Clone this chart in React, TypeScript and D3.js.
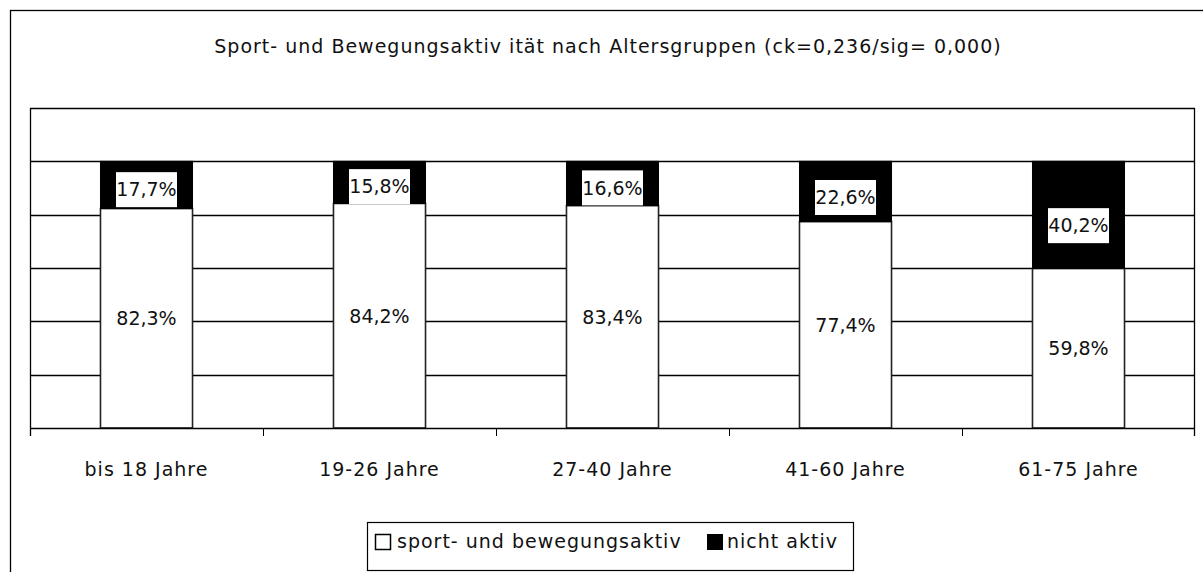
import React from "react";
import * as d3 from "d3";

const categories = ["bis 18 Jahre", "19-26 Jahre", "27-40 Jahre", "41-60 Jahre", "61-75 Jahre"];
const aktiv = [82.3, 84.2, 83.4, 77.4, 59.8];
const nichtAktiv = [17.7, 15.8, 16.6, 22.6, 40.2];
const seriesNames = ["sport- und bewegungsaktiv", "nicht aktiv"];
const yTicks = [0, 20, 40, 60, 80, 100, 120];
const title = "Sport- und Bewegungsaktiv ität nach Altersgruppen (ck=0,236/sig= 0,000)";

const W = 1203;
const H = 572;
const FONT = "'DejaVu Sans', sans-serif";

const fmt = (v: number) => v.toFixed(1).replace(".", ",") + "%";

export default function App() {
  const plot = { left: 30, right: 1195, top: 108, bottom: 428 };
  const x = d3.scaleBand<string>().domain(categories).range([plot.left, plot.right]).padding(0);
  const y = d3.scaleLinear().domain([0, 120]).range([plot.bottom, plot.top]);
  const barW = x.bandwidth() * 0.395;
  const fontSize = 19;
  const ls = 1;

  return (
    <svg width={W} height={H} style={{ position: "absolute", left: 0, top: 0, background: "#fff" }} fontFamily={FONT}>
      <rect x={10.5} y={10.5} width={W + 20} height={H + 20} fill="none" stroke="#000" strokeWidth={1.3} />
      <text x={608} y={53} textAnchor="middle" fontSize={fontSize} fill="#111" letterSpacing={ls}>
        {title}
      </text>
      {/* plot frame */}
      <line x1={plot.left} x2={plot.right} y1={plot.top + 0.5} y2={plot.top + 0.5} stroke="#000" strokeWidth={1.3} />
      {yTicks.slice(1, -1).map((t) => (
        <line key={t} x1={plot.left} x2={plot.right} y1={Math.round(y(t)) + 0.5} y2={Math.round(y(t)) + 0.5} stroke="#000" strokeWidth={1.3} />
      ))}
      {/* bars */}
      {categories.map((c, i) => {
        const cx = x(c)! + x.bandwidth() / 2;
        const x0 = cx - barW / 2;
        const yA = y(aktiv[i]);
        const yTop = y(aktiv[i] + nichtAktiv[i]);
        return (
          <g key={c}>
            <rect x={x0} y={yA} width={barW} height={y(0) - yA} fill="#fff" stroke="#222" strokeWidth={1.6} />
            <rect x={x0} y={yTop} width={barW} height={yA - yTop} fill="#000" stroke="#000" strokeWidth={1} />
          </g>
        );
      })}
      {/* labels */}
      {categories.map((c, i) => {
        const cx = x(c)! + x.bandwidth() / 2;
        const yA = y(aktiv[i]);
        const yTop = y(aktiv[i] + nichtAktiv[i]);
        const midA = (yA + y(0)) / 2;
        const hB = yA - yTop;
        const midB = yTop + hB / 2 + hB * 0.1;
        return (
          <g key={c + "l"}>
            <rect x={cx - 30.5} y={midA - 17} width={61} height={34} fill="#fff" />
            <text x={cx} y={midA} dy="0.36em" textAnchor="middle" fontSize={fontSize} fill="#111">{fmt(aktiv[i])}</text>
            <rect x={cx - 30.5} y={midB - 17.5} width={61} height={35} fill="#fff" />
            <text x={cx} y={midB} dy="0.36em" textAnchor="middle" fontSize={fontSize} fill="#111">{fmt(nichtAktiv[i])}</text>
          </g>
        );
      })}
      {/* axis */}
      <line x1={plot.left} x2={plot.right} y1={plot.bottom + 0.5} y2={plot.bottom + 0.5} stroke="#000" strokeWidth={1.5} />
      <line x1={plot.left + 0.5} x2={plot.left + 0.5} y1={plot.top} y2={plot.bottom + 8} stroke="#000" strokeWidth={1.3} />
      <line x1={plot.right - 0.5} x2={plot.right - 0.5} y1={plot.top} y2={plot.bottom + 8} stroke="#000" strokeWidth={1.3} />
      {categories.slice(1).map((c) => (
        <line key={c + "t"} x1={Math.round(x(c)!) + 0.5} x2={Math.round(x(c)!) + 0.5} y1={plot.bottom} y2={plot.bottom + 8} stroke="#000" strokeWidth={1} />
      ))}
      {categories.map((c) => (
        <text key={c + "c"} x={x(c)! + x.bandwidth() / 2} y={476} textAnchor="middle" fontSize={fontSize} fill="#111" letterSpacing={ls}>{c}</text>
      ))}
      {/* legend */}
      <rect x={367.5} y={522.5} width={486} height={48} fill="#fff" stroke="#000" strokeWidth={1.2} />
      <rect x={375.5} y={534.5} width={15} height={15} fill="#fff" stroke="#000" strokeWidth={1.5} />
      <text x={397} y={548} fontSize={fontSize} fill="#111" letterSpacing={ls}>{seriesNames[0]}</text>
      <rect x={707} y={534} width={16} height={16} fill="#000" />
      <text x={727} y={548} fontSize={fontSize} fill="#111" letterSpacing={ls}>{seriesNames[1]}</text>
    </svg>
  );
}
